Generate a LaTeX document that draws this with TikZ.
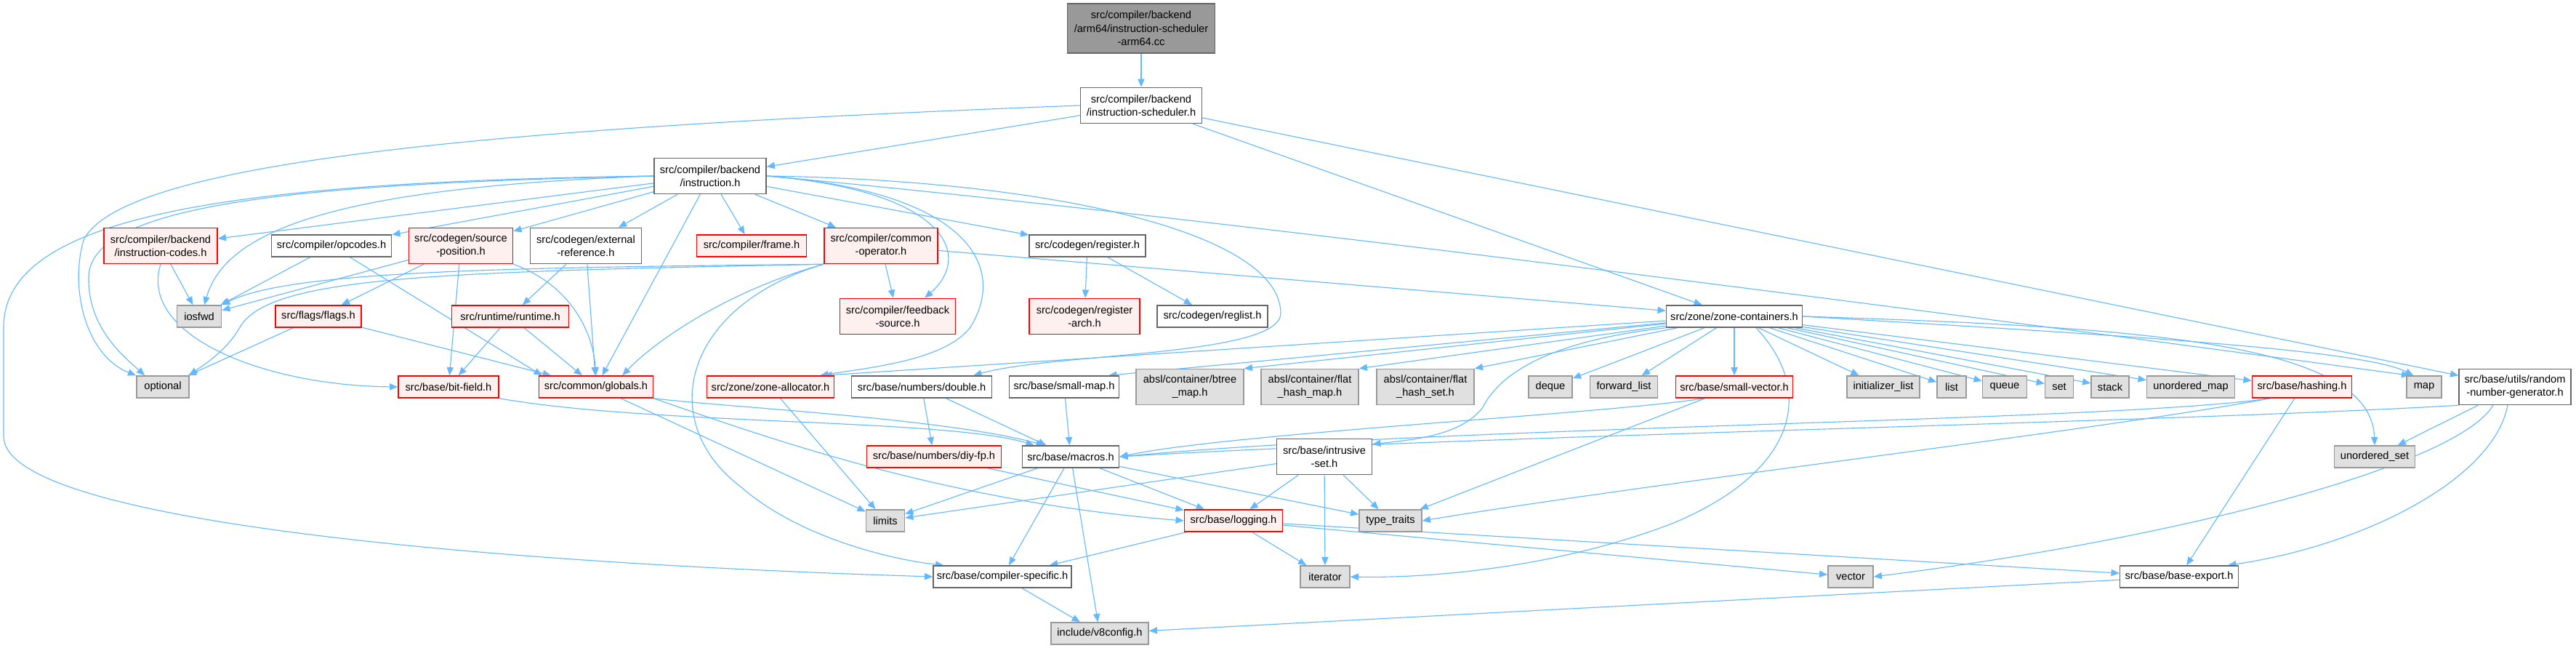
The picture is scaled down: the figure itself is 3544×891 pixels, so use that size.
\documentclass[tikz,border=0pt]{standalone}
\usepackage{fontspec}
\setmainfont{Liberation Sans}
\usepackage{tikz}
\usetikzlibrary{arrows.meta,calc}
\definecolor{IncBlue}{HTML}{63B8FF}
\definecolor{BoxGray}{HTML}{666666}
\definecolor{RedFill}{HTML}{FFF0F0}
\definecolor{SysFill}{HTML}{E0E0E0}
\definecolor{SysLine}{HTML}{999999}
\definecolor{RootFill}{HTML}{999999}
\pgfdeclarelayer{edges}
\pgfsetlayers{edges,main}
\tikzset{
  filebox/.style={draw=BoxGray,fill=white,line width=1.1pt,align=center,inner xsep=1pt,inner ysep=1pt,minimum height=0.75cm,font=\fontsize{10.4}{13}\selectfont},
  redbox/.style={filebox,draw=red,fill=RedFill},
  sysbox/.style={filebox,draw=SysLine,fill=SysFill},
  rootbox/.style={filebox,fill=RootFill},
  twoline/.style={minimum height=1.225cm},
  threeline/.style={minimum height=1.7cm},
  bw/.style={minimum width=#1*0.025cm},
  inclarrow/.style={-{Triangle[length=2.8mm,width=2.3mm]},line width=0.8pt,draw=IncBlue}
}

\begin{document}
\begin{tikzpicture}[x=0.025cm,y=-0.025cm]
\useasboundingbox (0,0) rectangle (3544,891);
% top of the graph
\node[rootbox,threeline,bw=203] (root) at (1570,39) {src/compiler/backend\\/arm64/instruction-scheduler\\-arm64.cc};
\node[filebox,twoline,bw=167] (sched) at (1570,145) {src/compiler/backend\\/instruction-scheduler.h};
\node[filebox,twoline,bw=154] (instr) at (977,242) {src/compiler/backend\\/instruction.h};
% third row
\node[redbox,twoline,bw=156] (icodes) at (221,338) {src/compiler/backend\\/instruction-codes.h};
\node[filebox,bw=165] (opcodes) at (456,338) {src/compiler/opcodes.h};
\node[redbox,twoline,bw=143] (srcpos) at (634,338) {src/codegen/source\\-position.h};
\node[filebox,twoline,bw=153] (extref) at (806,338) {src/codegen/external\\-reference.h};
\node[redbox,bw=151] (frame) at (1034,338) {src/compiler/frame.h};
\node[redbox,twoline,bw=156] (commonop) at (1212,338) {src/compiler/common\\-operator.h};
\node[filebox,bw=160] (register) at (1496,338) {src/codegen/register.h};
% fourth row
\node[sysbox,bw=61] (iosfwd) at (274,435) {iosfwd};
\node[redbox,bw=118] (flags) at (438,435) {src/flags/flags.h};
\node[redbox,bw=161] (runtime) at (702,435) {src/runtime/runtime.h};
\node[redbox,twoline,bw=159] (feedback) at (1235,435) {src/compiler/feedback\\-source.h};
\node[redbox,twoline,bw=152] (regarch) at (1492,435) {src/codegen/register\\-arch.h};
\node[filebox,bw=152] (reglist) at (1668,435) {src/codegen/reglist.h};
\node[filebox,bw=187] (zonecont) at (2386,435) {src/zone/zone-containers.h};
% fifth row
\node[sysbox,bw=72] (optional) at (224,532) {optional};
\node[redbox,bw=138] (bitfield) at (617,532) {src/base/bit-field.h};
\node[redbox,bw=157] (globals) at (820,532) {src/common/globals.h};
\node[redbox,bw=175] (zonealloc) at (1060,532) {src/zone/zone-allocator.h};
\node[filebox,bw=193] (dbl) at (1268,532) {src/base/numbers/double.h};
\node[filebox,bw=151] (smallmap) at (1464,532) {src/base/small-map.h};
\node[sysbox,twoline,bw=148] (btree) at (1637,532) {absl/container/btree\\\_map.h};
\node[sysbox,twoline,bw=134] (flathmap) at (1802,532) {absl/container/flat\\\_hash\_map.h};
\node[sysbox,twoline,bw=134] (flathset) at (1961,532) {absl/container/flat\\\_hash\_set.h};
\node[sysbox,bw=60] (deque) at (2133,532) {deque};
\node[sysbox,bw=93] (fwdlist) at (2234,532) {forward\_list};
\node[redbox,bw=161] (smallvec) at (2386,532) {src/base/small-vector.h};
\node[sysbox,bw=100] (initlist) at (2591,532) {initializer\_list};
\node[sysbox,bw=40] (list) at (2685,532) {list};
\node[sysbox,bw=61] (queue) at (2758,532) {queue};
\node[sysbox,bw=39] (set) at (2833,532) {set};
\node[sysbox,bw=52] (stack) at (2903,532) {stack};
\node[sysbox,bw=121] (umap) at (3014,532) {unordered\_map};
\node[redbox,bw=137] (hashing) at (3167,532) {src/base/hashing.h};
\node[sysbox,bw=48] (map) at (3335,532) {map};
\node[filebox,twoline,bw=154] (rng) at (3460,532) {src/base/utils/random\\-number-generator.h};
% lower rows
\node[redbox,bw=185] (diyfp) at (1285,628) {src/base/numbers/diy-fp.h};
\node[filebox,bw=133] (macros) at (1473,628) {src/base/macros.h};
\node[filebox,twoline,bw=131] (intrusive) at (1822,628) {src/base/intrusive\\-set.h};
\node[sysbox,bw=111] (uset) at (3267,628) {unordered\_set};
\node[sysbox,bw=53] (limits) at (1218,716) {limits};
\node[redbox,bw=135] (logging) at (1697,716) {src/base/logging.h};
\node[sysbox,bw=86] (typetraits) at (1913,716) {type\_traits};
\node[filebox,bw=190] (compspec) at (1379,793) {src/base/compiler-specific.h};
\node[sysbox,bw=68] (iterator) at (1823,793) {iterator};
\node[sysbox,bw=62] (vector) at (2546,793) {vector};
\node[filebox,bw=163] (baseexport) at (2998,793) {src/base/base-export.h};
\node[sysbox,bw=134] (v8config) at (1513,871) {include/v8config.h};

\begin{pgfonlayer}{edges}
% includes of the scheduler
\draw[inclarrow] (root)--(sched);
\draw[inclarrow] (sched)--(instr);
\draw[inclarrow] (sched)--(zonecont);
\draw[inclarrow] (sched)--(rng);
\draw[inclarrow] (sched.west) .. controls (700,175) and (170,220) .. (115,330) .. controls (95,400) and (120,490) .. (optional.north west);
% includes of instruction.h
\draw[inclarrow] (instr)--(icodes);
\draw[inclarrow] (instr)--(opcodes);
\draw[inclarrow] (instr)--(srcpos);
\draw[inclarrow] (instr)--(extref);
\draw[inclarrow] (instr)--(frame);
\draw[inclarrow] (instr)--(commonop);
\draw[inclarrow] (instr)--(register);
\draw[inclarrow] (instr)--(globals);
\draw[inclarrow] (instr.west) .. controls (450,258) and (310,320) .. ($(iosfwd.north)+(7,0)$);
\draw[inclarrow] (instr.west) .. controls (450,252) and (125,275) .. (122,380) .. controls (120,450) and (170,490) .. ($(optional.north west)+(12,0)$);
\draw[inclarrow] (instr.west) .. controls (300,250) and (5,300) .. (5,450)--(5,600) .. controls (5,720) and (700,775) .. (compspec.west);
\draw[inclarrow] (instr.east) .. controls (1300,262) and (1340,350) .. ($(feedback.north east)+(-43,0)$);
\draw[inclarrow] (instr.east) .. controls (1320,262) and (1390,360) .. (1335,450) .. controls (1300,495) and (1200,505) .. ($(zonealloc.north east)+(-20,0)$);
\draw[inclarrow] (instr.east) .. controls (1450,248) and (1760,320) .. (1762,430) .. controls (1764,490) and (1450,485) .. ($(dbl.north east)+(-26,0)$);
\draw[inclarrow] (instr.east) .. controls (1700,300) and (2900,460) .. ($(map.north west)+(5,0)$);
% third row includes
\draw[inclarrow] (icodes)--(iosfwd);
\draw[inclarrow] (icodes.south) .. controls (190,460) and (360,530) .. (bitfield.west);
\draw[inclarrow] (opcodes)--(iosfwd);
\draw[inclarrow] (opcodes)--($(globals.north west)+(5,0)$);
\draw[inclarrow] (srcpos)--(iosfwd);
\draw[inclarrow] (srcpos)--(flags);
\draw[inclarrow] (srcpos)--(bitfield);
\draw[inclarrow] (srcpos.south east) .. controls (780,390) and (815,450) .. (globals.north);
\draw[inclarrow] (extref)--(runtime);
\draw[inclarrow] (extref)--(globals);
\draw[inclarrow] (commonop)--(feedback);
\draw[inclarrow] (commonop)--(zonecont);
\draw[inclarrow] (commonop.south west) .. controls (700,368) and (400,372) .. (iosfwd.north east);
\draw[inclarrow] (commonop.south west) .. controls (600,374) and (370,380) .. (330,450) .. controls (310,485) and (275,505) .. (optional.north east);
\draw[inclarrow] (commonop.south west) .. controls (1000,400) and (900,470) .. ($(globals.north east)+(-43,0)$);
\draw[inclarrow] (commonop.south west) .. controls (940,420) and (900,580) .. (1020,670) .. controls (1100,740) and (1230,770) .. ($(compspec.north west)+(15,0)$);
\draw[inclarrow] (register)--(regarch);
\draw[inclarrow] (register)--(reglist);
% fourth row includes
\draw[inclarrow] (flags)--(optional);
\draw[inclarrow] (flags)--(globals);
\draw[inclarrow] (runtime)--(bitfield);
\draw[inclarrow] (runtime)--(globals);
% zone containers fan out
\draw[inclarrow] (zonecont)--($(zonealloc.north east)+(-15,0)$);
\draw[inclarrow] (zonecont)--($(smallmap.north east)+(-15,0)$);
\draw[inclarrow] (zonecont)--(btree.north east);
\draw[inclarrow] (zonecont)--(flathmap.north east);
\draw[inclarrow] (zonecont)--(flathset.north east);
\draw[inclarrow] (zonecont)--(deque);
\draw[inclarrow] (zonecont)--(fwdlist);
\draw[inclarrow] (zonecont)--(smallvec);
\draw[inclarrow] (zonecont)--(initlist);
\draw[inclarrow] (zonecont)--(list);
\draw[inclarrow] (zonecont)--(queue);
\draw[inclarrow] (zonecont)--(set);
\draw[inclarrow] (zonecont)--(stack);
\draw[inclarrow] (zonecont)--(umap);
\draw[inclarrow] (zonecont)--(hashing);
\draw[inclarrow] (zonecont.east) .. controls (2900,460) and (3250,480) .. ($(map.north west)+(10,0)$);
\draw[inclarrow] (zonecont.east) .. controls (2950,450) and (3262,470) .. (uset.north);
\draw[inclarrow] (zonecont.south west) .. controls (2120,470) and (2060,520) .. (2040,560) .. controls (2010,600) and (1940,605) .. ($(intrusive.north east)+(0,8)$);
\draw[inclarrow] ($(zonecont.south)+(30,0)$) .. controls (2500,540) and (2470,650) .. (2300,720) .. controls (2130,785) and (1950,795) .. (iterator.east);
% fifth row includes
\draw[inclarrow] (bitfield.south east) .. controls (900,585) and (1300,575) .. ($(macros.north west)+(17,0)$);
\draw[inclarrow] (globals.south east) .. controls (1000,560) and (1300,575) .. ($(macros.north west)+(31,0)$);
\draw[inclarrow] (globals)--(limits);
\draw[inclarrow] (globals.south east) .. controls (1050,600) and (1300,690) .. (logging.west);
\draw[inclarrow] (zonealloc)--(limits);
\draw[inclarrow] (dbl)--(diyfp);
\draw[inclarrow] (dbl)--(macros);
\draw[inclarrow] (smallmap)--(macros);
\draw[inclarrow] ($(smallvec.south west)+(40,0)$) .. controls (2200,570) and (1700,595) .. (macros.east);
\draw[inclarrow] (smallvec)--(typetraits);
\draw[inclarrow] ($(hashing.south west)+(25,0)$) .. controls (2900,580) and (2000,585) .. (macros.east);
\draw[inclarrow] ($(hashing.south west)+(25,0)$) .. controls (2900,590) and (2300,660) .. (typetraits.east);
\draw[inclarrow] (hashing)--(baseexport);
\draw[inclarrow] (rng.south west) .. controls (3000,580) and (2000,600) .. (macros.east);
\draw[inclarrow] (rng)--(uset);
\draw[inclarrow] ($(rng.south)+(-30,0)$) .. controls (3380,640) and (3000,740) .. (vector.east);
\draw[inclarrow] ($(rng.south)+(-10,0)$) .. controls (3430,660) and (3250,750) .. ($(baseexport.north east)+(-15,0)$);
% lower includes
\draw[inclarrow] (diyfp)--(logging);
\draw[inclarrow] (macros)--(limits);
\draw[inclarrow] (macros)--(logging);
\draw[inclarrow] (macros)--(typetraits);
\draw[inclarrow] (macros)--(compspec);
\draw[inclarrow] (macros)--(v8config);
\draw[inclarrow] (intrusive)--(limits);
\draw[inclarrow] (intrusive)--(logging);
\draw[inclarrow] (intrusive)--(iterator);
\draw[inclarrow] (intrusive)--(typetraits);
\draw[inclarrow] (logging)--(compspec);
\draw[inclarrow] (logging)--(iterator);
\draw[inclarrow] (logging)--(vector);
\draw[inclarrow] (logging)--(baseexport);
\draw[inclarrow] (compspec)--(v8config);
\draw[inclarrow] (baseexport)--(v8config);
\end{pgfonlayer}
\end{tikzpicture}
\end{document}
